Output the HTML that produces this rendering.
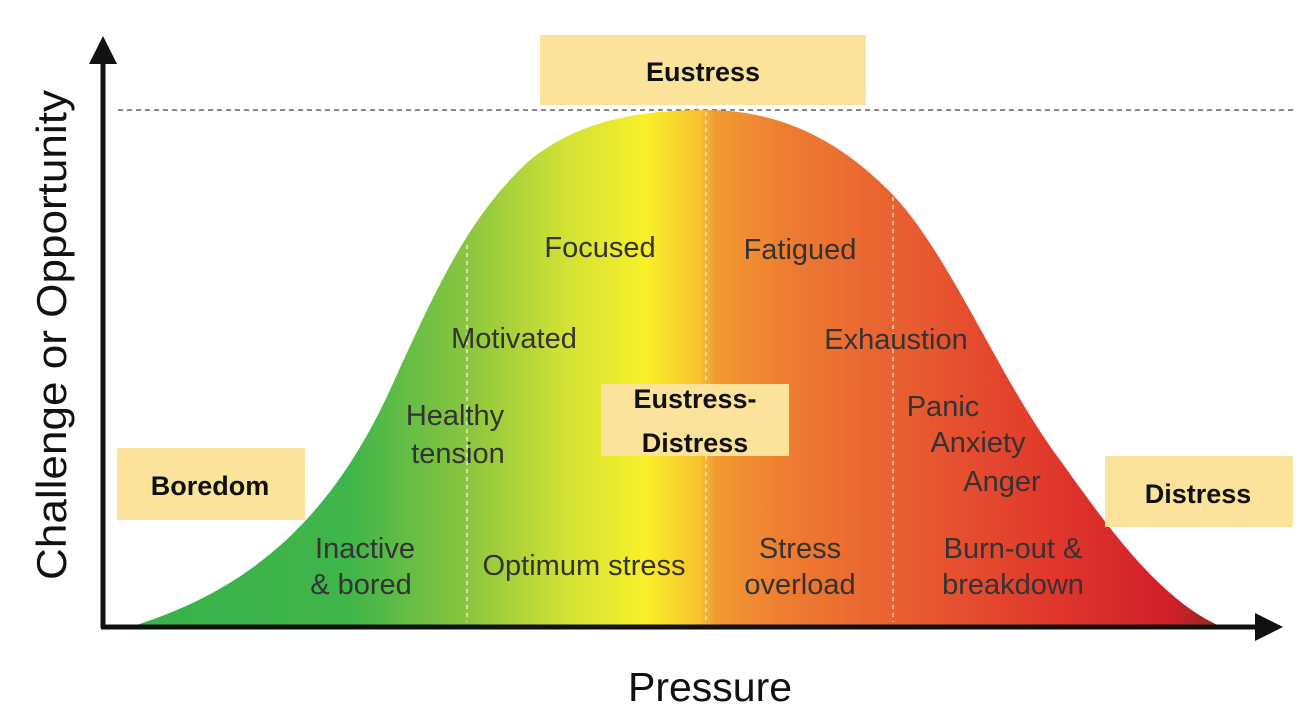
<!DOCTYPE html>
<html><head><meta charset="utf-8"><style>
html,body{margin:0;padding:0;background:#fff;}
svg{display:block;}
.t{font-family:"Liberation Sans",sans-serif;font-size:29px;fill:#333;text-anchor:middle;font-weight:normal;}
.b{font-family:"Liberation Sans",sans-serif;font-size:27px;fill:#111;text-anchor:middle;font-weight:bold;}
</style></head><body>
<svg width="1306" height="723" viewBox="0 0 1306 723" xmlns="http://www.w3.org/2000/svg">
<defs>
<linearGradient id="g" x1="130" y1="0" x2="1225" y2="0" gradientUnits="userSpaceOnUse">
<stop offset="0" stop-color="#39b14b"/>
<stop offset="0.2" stop-color="#3fb54a"/>
<stop offset="0.31" stop-color="#8cc63e"/>
<stop offset="0.4" stop-color="#d4e234"/>
<stop offset="0.46" stop-color="#f2ee2c"/>
<stop offset="0.47" stop-color="#f9f02a"/>
<stop offset="0.52" stop-color="#f7c22e"/>
<stop offset="0.535" stop-color="#f29a32"/>
<stop offset="0.6" stop-color="#ee7c31"/>
<stop offset="0.72" stop-color="#e85a30"/>
<stop offset="0.85" stop-color="#e0352c"/>
<stop offset="0.95" stop-color="#cf1f2a"/>
<stop offset="1" stop-color="#8a2a1e"/>
</linearGradient>
</defs>
<line x1="118" y1="110" x2="1295" y2="110" stroke="#444" stroke-width="1.2" stroke-dasharray="5,4"/>
<path d="M130,627 C250,590 330,520 390,390 C440,280 470,215 530,160 C580,120 640,110 706,110 C780,110 840,140 893,195 C950,255 1000,380 1060,460 C1110,530 1160,600 1222,627 Z" fill="url(#g)"/>
<g stroke="#fff" stroke-width="1.3" stroke-dasharray="4,4" opacity="0.85">
<line x1="467" y1="245" x2="467" y2="622"/>
<line x1="706" y1="112" x2="706" y2="622"/>
<line x1="893" y1="197" x2="893" y2="622"/>
</g>
<line x1="103" y1="60" x2="103" y2="628" stroke="#111" stroke-width="5"/>
<polygon points="103,36 89,64 117,64" fill="#111"/>
<line x1="101" y1="627" x2="1258" y2="627" stroke="#111" stroke-width="5"/>
<polygon points="1283,627 1255,613 1255,641" fill="#111"/>
<text class="t" x="600" y="257">Focused</text>
<text class="t" x="800" y="259">Fatigued</text>
<text class="t" x="514" y="348">Motivated</text>
<text class="t" x="896" y="349">Exhaustion</text>
<text class="t" x="455" y="425">Healthy</text>
<text class="t" x="458" y="463">tension</text>
<text class="t" x="943" y="416">Panic</text>
<text class="t" x="978" y="452">Anxiety</text>
<text class="t" x="1002" y="491">Anger</text>
<text class="t" x="365" y="558">Inactive</text>
<text class="t" x="361" y="594">&amp; bored</text>
<text class="t" x="584" y="575">Optimum stress</text>
<text class="t" x="800" y="558">Stress</text>
<text class="t" x="800" y="594">overload</text>
<text class="t" x="1013" y="558">Burn-out &amp;</text>
<text class="t" x="1013" y="594">breakdown</text>
<rect x="540" y="35" width="326" height="70" fill="#fce39b"/>
<text class="b" x="703" y="81">Eustress</text>
<rect x="117" y="448" width="188" height="72" fill="#fce39b"/>
<text class="b" x="210" y="495">Boredom</text>
<rect x="1105" y="456" width="188" height="71" fill="#fce39b"/>
<text class="b" x="1198" y="503">Distress</text>
<rect x="601" y="384" width="188" height="72" fill="#fce39b"/>
<text class="b" x="695" y="408">Eustress-</text>
<text class="b" x="695" y="452">Distress</text>
<text x="710" y="701" font-family="Liberation Sans,sans-serif" font-size="41" fill="#111" text-anchor="middle">Pressure</text>
<text transform="translate(66,335) rotate(-90)" font-family="Liberation Sans,sans-serif" font-size="42" fill="#111" text-anchor="middle" textLength="490" lengthAdjust="spacingAndGlyphs">Challenge or Opportunity</text>
</svg>
</body></html>
